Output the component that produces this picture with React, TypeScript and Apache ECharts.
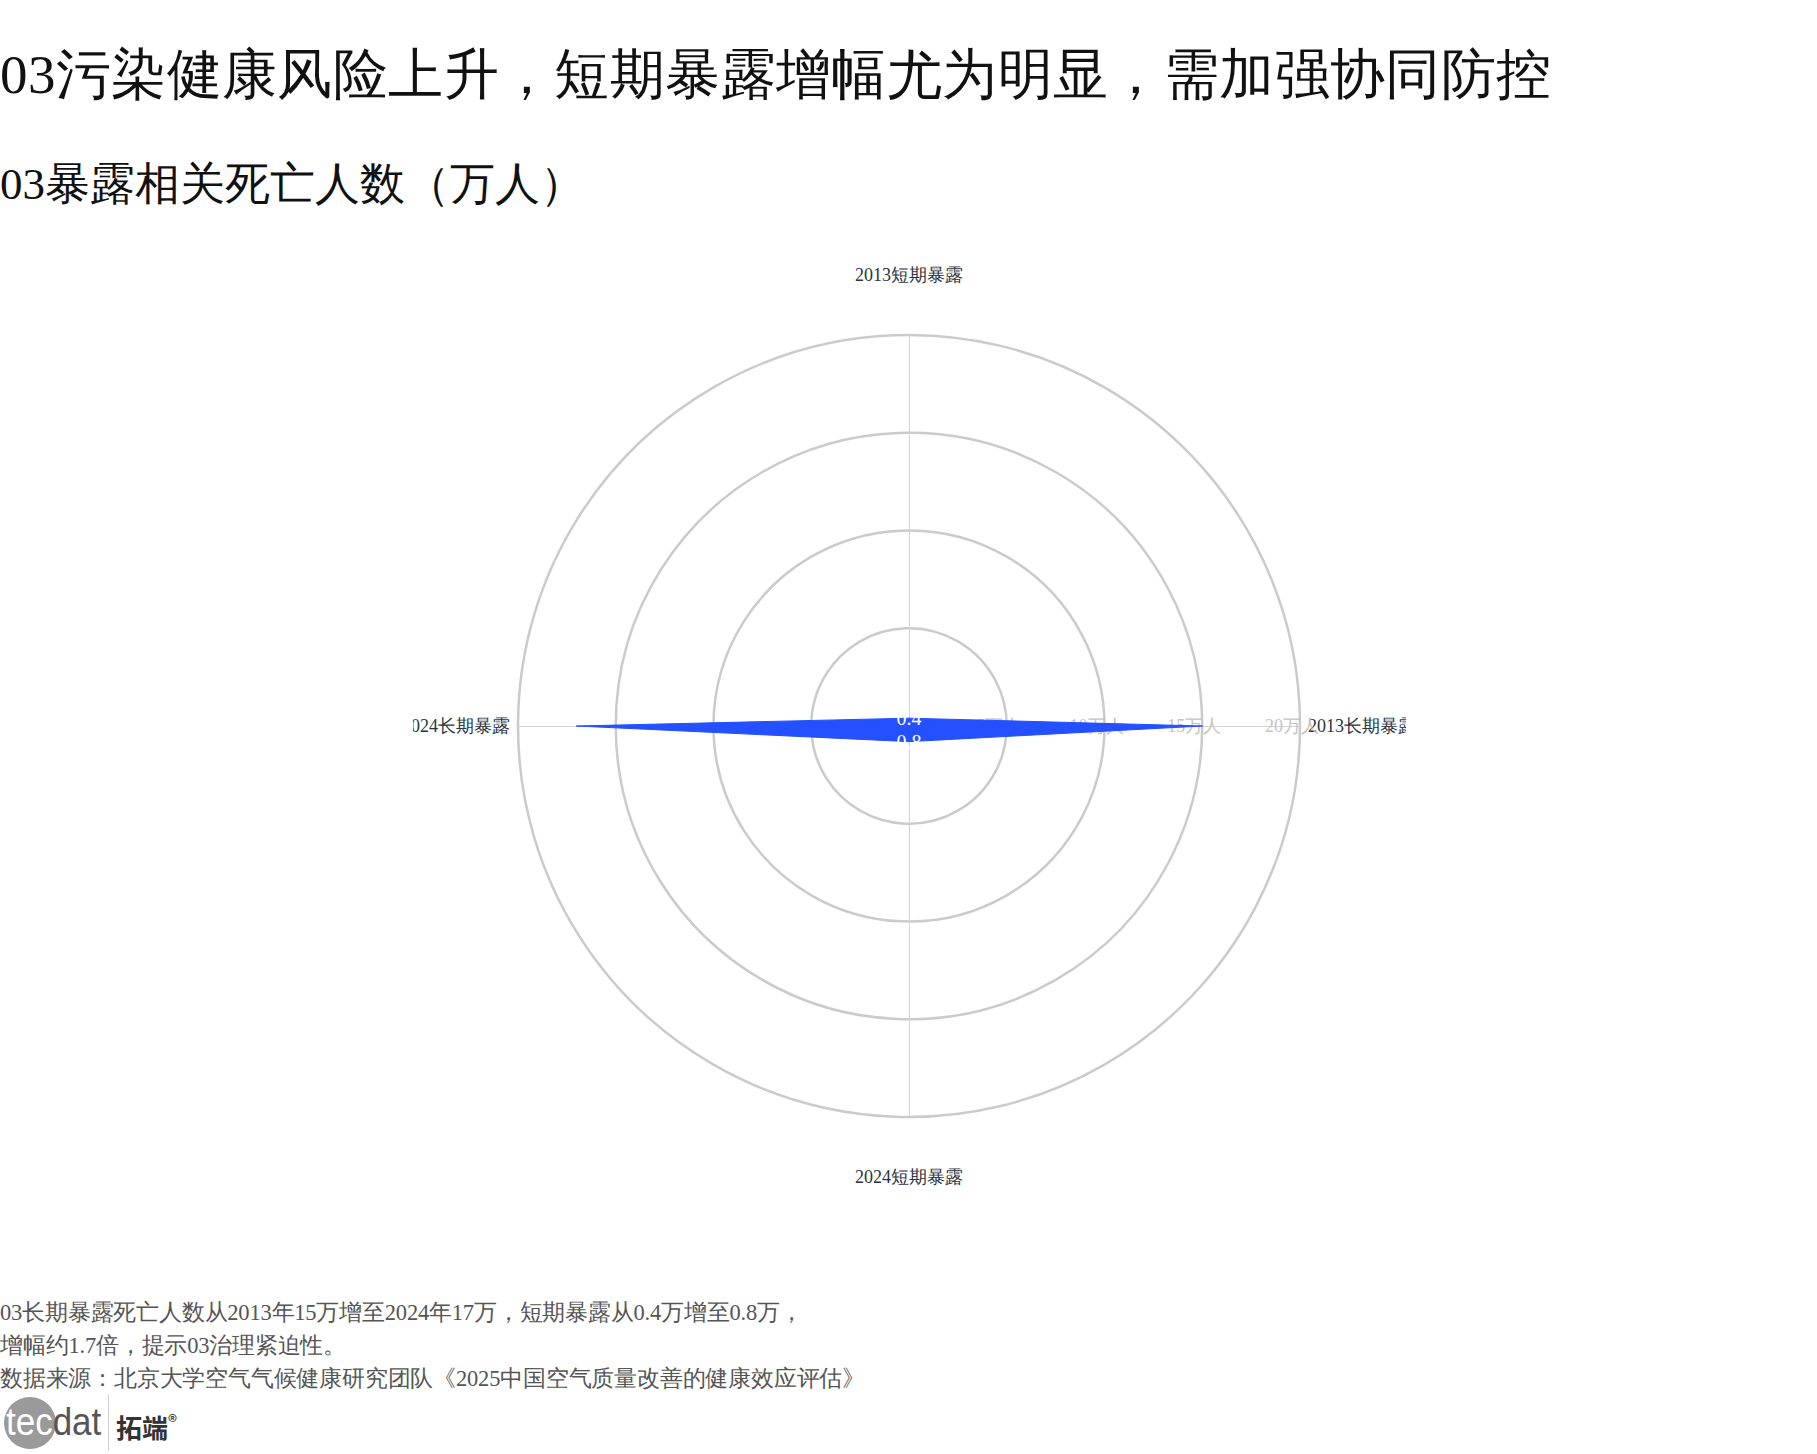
import { useEffect, useRef } from 'react'
import * as echarts from 'echarts'

// indicators run counter-clockwise from the top
const indicatorNames = ['2013短期暴露', '2024长期暴露', '2024短期暴露', '2013长期暴露']
const deathValues = [0.4, 17, 0.8, 15]
const axisMax = 20
const labelUnit = '万人'

const title = '03污染健康风险上升，短期暴露增幅尤为明显，需加强协同防控'
const subtitle = '03暴露相关死亡人数（万人）'
const notes = [
  '03长期暴露死亡人数从2013年15万增至2024年17万，短期暴露从0.4万增至0.8万，',
  '增幅约1.7倍，提示03治理紧迫性。',
  '数据来源：北京大学空气气候健康研究团队《2025中国空气质量改善的健康效应评估》',
]

function RadarChart() {
  const ref = useRef<HTMLDivElement>(null)

  useEffect(() => {
    if (!ref.current) return
    const chart = echarts.init(ref.current, undefined, { renderer: 'svg' })
    chart.setOption({
      animation: false,
      backgroundColor: 'transparent',
      radar: {
        center: [496, 496],
        radius: 391,
        shape: 'circle',
        splitNumber: 4,
        nameGap: 8,
        nameMoveOverlap: false,
        axisName: {
          color: '#2b3441',
          fontSize: 18,
          fontFamily: 'serif',
          padding: [43, 0],
        },
        indicator: indicatorNames.map((name, i) => ({
          name,
          min: 0,
          max: axisMax,
          nameMoveOverlap: false,
          axisLabel:
            i === 3
              ? {
                  show: true,
                  color: '#c4c4c4',
                  fontSize: 18,
                  fontFamily: 'serif',
                  showMinLabel: false,
                  margin: -9,
                  padding: [0, 16, 0, 0],
                  formatter: (v: number) => `${v}${labelUnit}`,
                }
              : undefined,
        })),
        axisLine: { lineStyle: { color: '#d4d4d4', width: 1 } },
        splitLine: { lineStyle: { color: '#cbcbcb', width: 2.5 } },
        splitArea: { show: false },
        axisTick: { show: false },
        axisLabel: { show: false },
      },
      series: [
        {
          type: 'radar',
          symbol: 'circle',
          symbolSize: 1,
          itemStyle: { color: '#2450ff' },
          lineStyle: { color: '#2450ff', width: 1 },
          areaStyle: { color: '#2450ff', opacity: 1 },
          label: {
            show: true,
            position: 'inside',
            color: '#ffffff',
            fontSize: 20,
            fontFamily: 'serif',
            formatter: (p: any) => {
              const v = Array.isArray(p.value) ? p.value[p.dimensionIndex ?? 0] : p.value
              return v < 1 ? String(v) : ''
            },
          },
          data: [{ value: deathValues, name: 'O3暴露相关死亡人数' }],
        },
      ],
    })
    return () => chart.dispose()
  }, [])

  return (
    <div
      ref={ref}
      style={{ position: 'absolute', left: 413, top: 230, width: 993, height: 1000 }}
    />
  )
}

export default function App() {
  return (
    <div
      style={{
        position: 'absolute',
        left: 0,
        top: 0,
        width: 1817,
        height: 1454,
        background: '#fff',
        fontFamily: 'serif',
        overflow: 'hidden',
      }}
    >
      <div style={{ position: 'absolute', left: 0, top: 47, fontSize: 55, letterSpacing: 0.4, lineHeight: '56px', color: '#111', whiteSpace: 'nowrap' }}>
        {title}
      </div>
      <div style={{ position: 'absolute', left: 0, top: 161, fontSize: 45, lineHeight: '46px', color: '#111', whiteSpace: 'nowrap' }}>
        {subtitle}
      </div>
      <RadarChart />
      {notes.map((t, i) => (
        <div
          key={i}
          style={{ position: 'absolute', left: 0, top: 1300 + i * 33, fontSize: 22.5, letterSpacing: -0.2, lineHeight: '26px', color: '#555', whiteSpace: 'nowrap' }}
        >
          {t}
        </div>
      ))}
      <div style={{ position: 'absolute', left: 4, top: 1397, width: 52, height: 52, borderRadius: '50%', background: '#9a9a9a' }} />
      <div
        style={{
          position: 'absolute',
          left: 6,
          top: 1400,
          fontFamily: '"Liberation Sans Narrow", "Liberation Sans", sans-serif',
          fontSize: 38,
          lineHeight: '44px',
          transform: 'scaleX(0.92)',
          transformOrigin: 'left center',
          whiteSpace: 'nowrap',
        }}
      >
        <span style={{ color: '#fff' }}>tec</span>
        <span style={{ color: '#555' }}>dat</span>
      </div>
      <div style={{ position: 'absolute', left: 108, top: 1395, width: 1, height: 56, background: '#cfcfcf' }} />
      <div
        style={{
          position: 'absolute',
          left: 116,
          top: 1406,
          fontFamily: '"Noto Sans CJK SC", sans-serif',
          fontWeight: 700,
          fontSize: 26,
          lineHeight: '30px',
          color: '#333',
          whiteSpace: 'nowrap',
        }}
      >
        拓端<sup style={{ fontSize: 19, fontWeight: 400, verticalAlign: '0.45em' }}>®</sup>
      </div>
    </div>
  )
}
